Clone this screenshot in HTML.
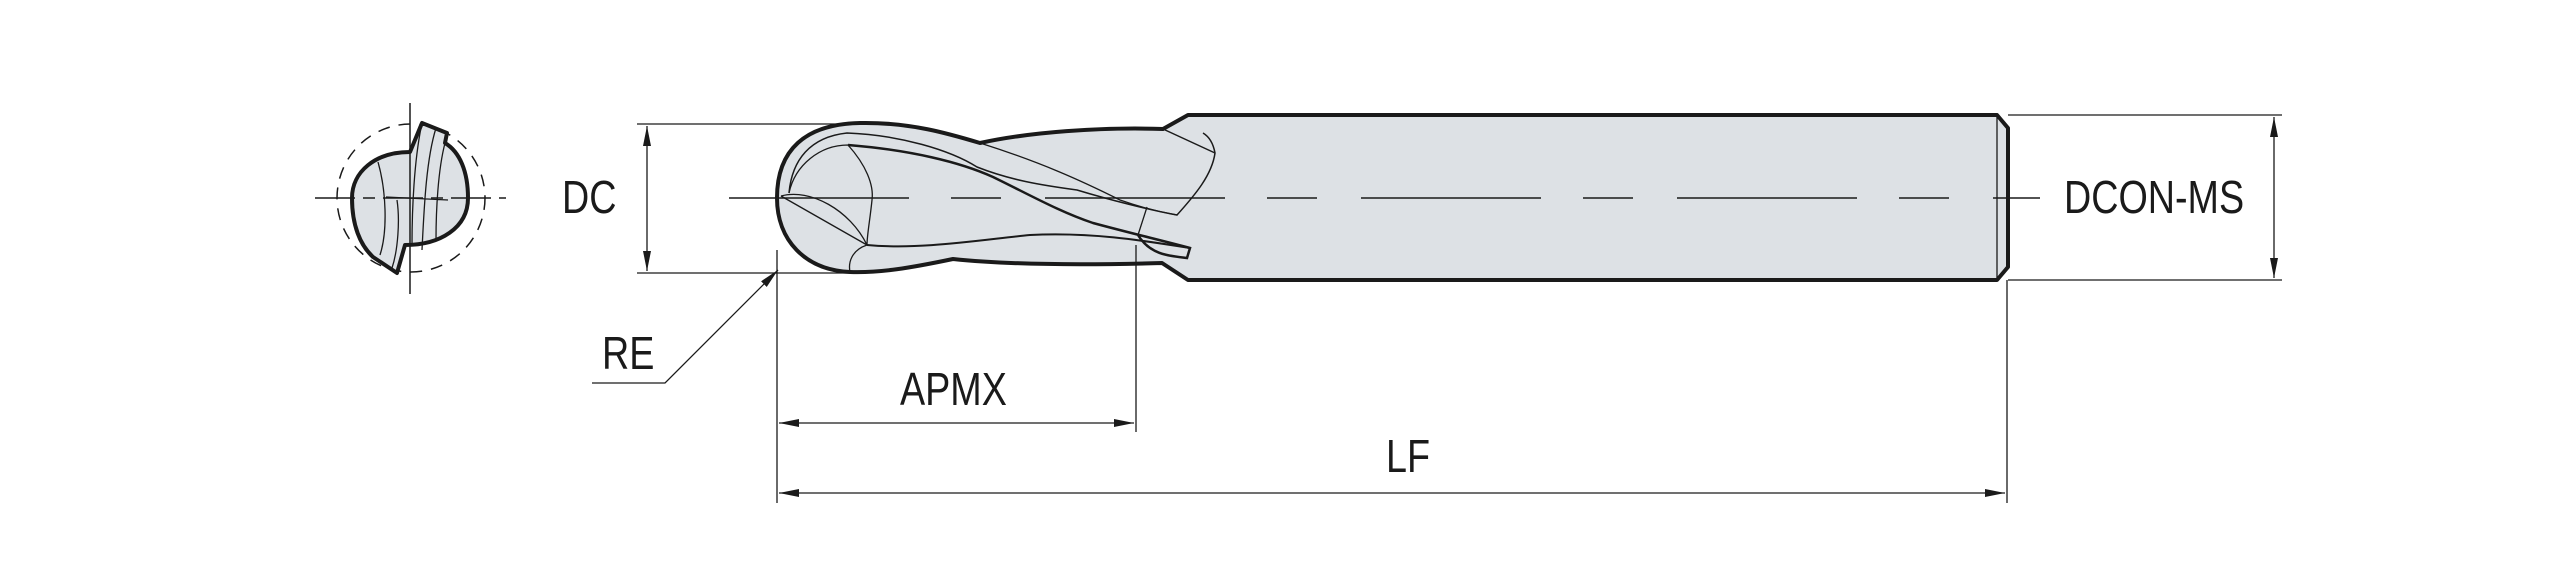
<!DOCTYPE html>
<html><head><meta charset="utf-8"><style>
html,body{margin:0;padding:0;background:#fff;}
svg{display:block;}
text{font-family:"Liberation Sans",sans-serif;fill:#1a1a1a;}
</style></head><body>
<svg width="2560" height="565" viewBox="0 0 2560 565" xmlns="http://www.w3.org/2000/svg">
<defs>
<marker id="ar" viewBox="0 0 20 8" refX="20" refY="4" markerWidth="20" markerHeight="8" markerUnits="userSpaceOnUse" orient="auto-start-reverse"><path d="M0,0 L20,4 L0,8 z" fill="#1a1a1a"/></marker>
</defs>
<g stroke="#1a1a1a" fill="none">
<!-- End view -->
<circle cx="411" cy="198" r="74" stroke-width="1.5" stroke-dasharray="12,9"/>
<path d="M410,152 C375,152 352,172 352,198 C352,225 360,245 373,257 L397,273 L405,245 C440,245 468,228 468,198 C468,172 460,152 445,143 L447,133 L422,123 Z" fill="#dde1e5" stroke-width="4" stroke-linejoin="round"/>
<path d="M422,123 C414,160 412,210 412,245 M436,128 C426,160 424,210 422,250 M445,143 C438,170 436,210 436,240 M378,162 C386,190 388,230 380,255 M397,200 C400,220 398,250 392,268 M386,197 L448,200" stroke-width="1.3"/>
<line x1="410" y1="103" x2="410" y2="294" stroke-width="1.5"/>
<line x1="315" y1="198" x2="506" y2="198" stroke-width="1.5" stroke-dasharray="40,8,12,8"/>

<!-- Tool body -->
<path d="M777,198 C777,150 805,124 860,123 C910,122 950,134 980,143 C1030,132 1100,127 1163,129 L1188,115 L1997,115 L2008,128 L2008,267 L1997,280 L1188,280 L1162,263 C1090,265 1010,265 953,259 C910,268 880,273 850,272 C805,270 777,240 777,198 Z" fill="#dde1e5" stroke-width="4" stroke-linejoin="round"/>
<line x1="1997" y1="115" x2="1997" y2="280" stroke-width="1.3"/>
<!-- flutes -->
<path d="M789,193 C792,160 810,137 847,133 C900,135 950,150 977,167 C1010,180 1040,185 1077,190 C1110,200 1150,210 1177,215 C1195,195 1212,175 1215,153 C1213,142 1208,136 1203,133" stroke-width="1.5"/>
<path d="M1163,129 L1215,153" stroke-width="1.5"/>
<path d="M848,145 C910,150 960,162 993,177 C1030,195 1060,212 1093,223 C1130,233 1160,240 1190,248 L1187,258 C1170,256 1150,255 1138,235" stroke-width="2.5"/>
<path d="M980,143 C1040,162 1080,180 1120,200 C1140,207 1160,212 1177,215" stroke-width="1.3"/>
<path d="M848,145 C820,145 795,165 789,193 M848,145 C866,165 874,185 872,200 C870,220 867,235 867,245" stroke-width="1.3"/>
<path d="M781,196 L867,245 M781,196 C810,188 850,210 867,245" stroke-width="1.3"/>
<path d="M867,245 C920,250 980,240 1030,235 C1090,232 1140,240 1190,248" stroke-width="2"/>
<path d="M867,245 C852,250 848,262 850,272" stroke-width="1.3"/>
<path d="M1147,207 L1138,235" stroke-width="1.3"/>
<!-- centerline -->
<line x1="729" y1="198" x2="2040" y2="198" stroke-width="1.6" stroke-dasharray="180,42,50,44"/>

<!-- DC dimension -->
<line x1="637" y1="124" x2="842" y2="124" stroke-width="1.3"/>
<line x1="637" y1="273" x2="850" y2="273" stroke-width="1.3"/>
<line x1="647" y1="126" x2="647" y2="271" stroke-width="1.3" marker-start="url(#ar)" marker-end="url(#ar)"/>
<!-- DCON-MS -->
<line x1="2008" y1="115" x2="2282" y2="115" stroke-width="1.3"/>
<line x1="2008" y1="280" x2="2282" y2="280" stroke-width="1.3"/>
<line x1="2274" y1="117" x2="2274" y2="278" stroke-width="1.3" marker-start="url(#ar)" marker-end="url(#ar)"/>
<!-- extension lines -->
<line x1="777" y1="250" x2="777" y2="503" stroke-width="1.3"/>
<line x1="1136" y1="245" x2="1136" y2="432" stroke-width="1.3"/>
<line x1="2007" y1="280" x2="2007" y2="503" stroke-width="1.3"/>
<!-- APMX / LF arrows -->
<line x1="779" y1="423" x2="1134" y2="423" stroke-width="1.3" marker-start="url(#ar)" marker-end="url(#ar)"/>
<line x1="779" y1="493" x2="2005" y2="493" stroke-width="1.3" marker-start="url(#ar)" marker-end="url(#ar)"/>
<!-- RE leader -->
<polyline points="592,383 665,383 778,270" stroke-width="1.3" marker-end="url(#ar)"/>
</g>
<g font-size="46">
<text x="562" y="213" transform="translate(562 0) scale(0.82 1) translate(-562 0)">DC</text>
<text x="2064" y="213" transform="translate(2064 0) scale(0.82 1) translate(-2064 0)">DCON-MS</text>
<text x="602" y="369" transform="translate(602 0) scale(0.82 1) translate(-602 0)">RE</text>
<text x="900" y="405" transform="translate(900 0) scale(0.82 1) translate(-900 0)">APMX</text>
<text x="1386" y="472" transform="translate(1386 0) scale(0.82 1) translate(-1386 0)">LF</text>
</g>
</svg>
</body></html>
